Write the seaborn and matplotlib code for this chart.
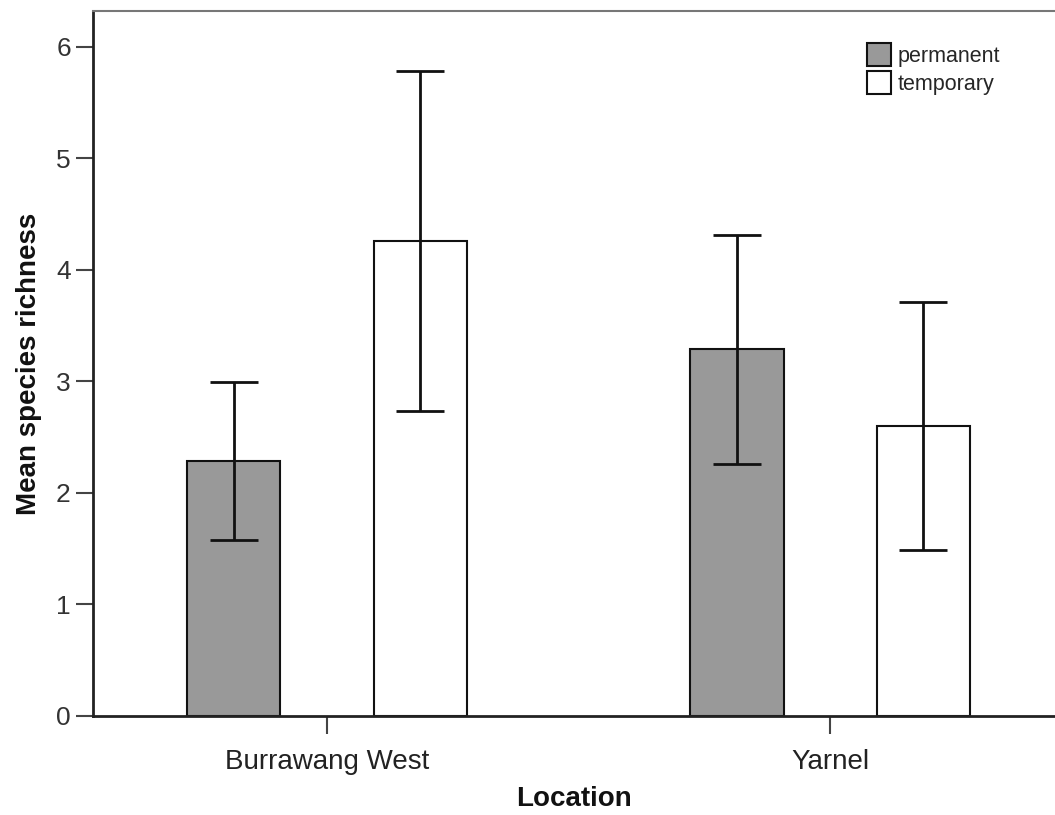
import matplotlib
matplotlib.use("Agg")
import matplotlib.pyplot as plt
import seaborn as sns
import pandas as pd
from matplotlib import font_manager
from matplotlib.patches import Patch

locations = ["Burrawang West", "Yarnel"]
types = ["permanent", "temporary"]
means_permanent = [2.29, 3.29]
means_temporary = [4.26, 2.60]
low_permanent = [1.58, 2.26]
high_permanent = [2.99, 4.31]
low_temporary = [2.73, 1.49]
high_temporary = [5.78, 3.71]
yticks = [0, 1, 2, 3, 4, 5, 6]

sns.set_theme(style="white")
names = {f.name for f in font_manager.fontManager.ttflist}
plt.rcParams["font.family"] = ["Liberation Sans", "DejaVu Sans"]
if "Liberation Sans Narrow" in names:
    legend_font, legend_size = "Liberation Sans Narrow", 17.5
else:
    legend_font, legend_size = "Liberation Sans", 15.5

df = pd.DataFrame({
    "Location": locations * 2,
    "Type": [types[0]] * 2 + [types[1]] * 2,
    "Mean": means_permanent + means_temporary,
})
lows = {types[0]: low_permanent, types[1]: low_temporary}
highs = {types[0]: high_permanent, types[1]: high_temporary}

fig = plt.figure(figsize=(10.55, 8.15), dpi=100)
ax = fig.add_axes([0.0882, 0.1215, 1 - 0.0882, 0.865])

sns.barplot(data=df, x="Location", y="Mean", hue="Type", order=locations,
            hue_order=types, palette={"permanent": "#999999", "temporary": "#ffffff"},
            width=0.74, gap=0.5, errorbar=None, edgecolor="#111111", linewidth=1.5,
            ax=ax, legend=False)

for t, cont in zip(types, ax.containers):
    for i, bar in enumerate(cont):
        xc = bar.get_x() + bar.get_width() / 2
        m = bar.get_height()
        lo, hi = lows[t][i], highs[t][i]
        ax.errorbar([xc], [m], yerr=[[m - lo], [hi - m]], fmt="none",
                    ecolor="#111111", elinewidth=2, capsize=17, capthick=2, zorder=5)

ax.set_xlim(-0.465, 1.447)
ax.set_ylim(0, 6.32)
ax.set_yticks(yticks)
ax.set_yticklabels([str(v) for v in yticks])

for s in ["left", "bottom"]:
    ax.spines[s].set_color("#222222")
    ax.spines[s].set_linewidth(2)
ax.spines["top"].set_color("#777777")
ax.spines["top"].set_linewidth(1.5)
ax.spines["right"].set_visible(False)

ax.tick_params(axis="y", direction="out", length=12, width=1.5, color="#444444",
               labelsize=19, labelcolor="#333333", pad=4, left=True)
ax.tick_params(axis="x", direction="out", length=13, width=1.5, color="#444444",
               labelsize=20, labelcolor="#222222", pad=11, bottom=True)

ax.set_xlabel("Location", fontsize=20, fontweight="bold", labelpad=8, color="#111111")
ax.set_ylabel("Mean species richness", fontsize=20, fontweight="bold", labelpad=10, color="#111111")

handles = [Patch(facecolor="#999999", edgecolor="#111111", linewidth=1.5),
           Patch(facecolor="#ffffff", edgecolor="#111111", linewidth=1.5)]
ax.legend(handles, types, loc="upper left", bbox_to_anchor=(0.805, 0.955),
          frameon=False, prop={"family": legend_font, "size": legend_size},
          handlelength=1.1, handleheight=1.3, handletextpad=0.3, labelspacing=0.2,
          borderaxespad=0, borderpad=0)

fig.savefig("out.png", dpi=100, facecolor="white")
